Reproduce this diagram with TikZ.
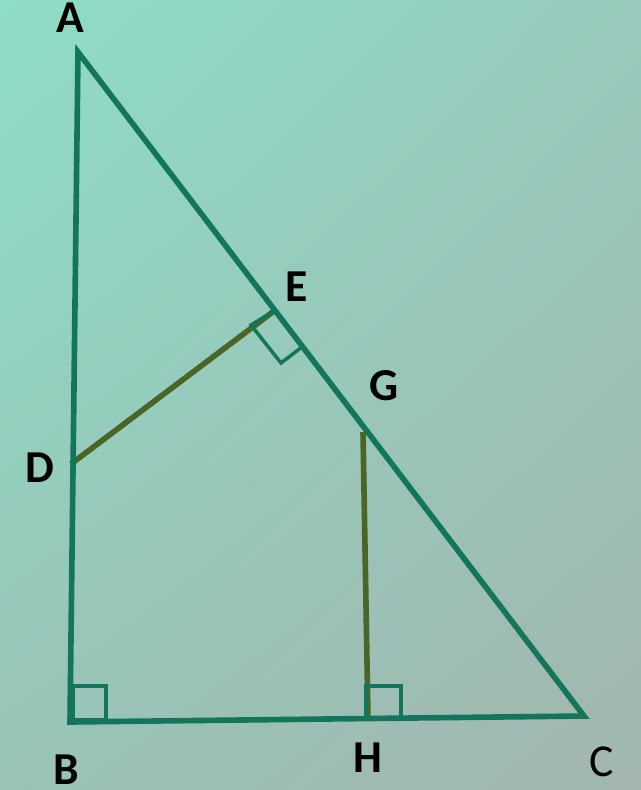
\documentclass[tikz,border=0pt]{standalone}
\usepackage{fontspec}
\setmainfont{Carlito}
\usepackage{xcolor}
\usetikzlibrary{shadings}
\definecolor{verde}{HTML}{13765A}
\definecolor{oliva}{HTML}{4A6626}
\definecolor{fondoA}{HTML}{8EDDC7}
\definecolor{fondoB}{HTML}{97CABC}
\definecolor{fondoC}{HTML}{99C3B7}
\definecolor{fondoD}{HTML}{A3B5AF}

\begin{document}
\begin{tikzpicture} %Triangulo ABC
  [
    x=0.02cm, y=-0.02cm,
    % Estilos para no repetir código
    etiqueta/.style={font=\fontsize{26}{30}\selectfont\bfseries, inner sep=0pt},
    lado/.style={verde, line width=3.2pt, line join=miter},
    segmento/.style={oliva, line width=3.2pt},
    recto/.style={verde, line width=2pt}
  ]
  \shade[upper left=fondoA, upper right=fondoB, lower left=fondoC, lower right=fondoD] (0,0) rectangle (641,790);
  \coordinate (A) at (78,52);
  \coordinate (B) at (70,722);
  \coordinate (C) at (584,716);
  \coordinate (D) at (71,464);
  \coordinate (E) at (274,311);
  \coordinate (G) at (363,432);
  \coordinate (H) at (368,720);
  \node[etiqueta] (a) at (70,18) {A};
  \node[etiqueta] (b) at (66,770) {B};
  \node[etiqueta, font=\fontsize{26}{30}\selectfont] (c) at (602,762) {C};
  \node[etiqueta] (d) at (40,468) {D};
  \node[etiqueta] (e) at (297,287) {E};
  \node[etiqueta] (g) at (384,386) {G};
  \node[etiqueta] (h) at (368,758) {H};
  \draw[segmento] (D) -- (E);
  \draw[segmento] (G) -- (H);
  \draw[recto] (73,686) rectangle (106,720);
  \draw[recto] (366,686) rectangle (401,719);
  \draw[recto] (E) -- (251,325) -- (281,363) -- (302,347);
  \draw[lado] (A) -- (B) -- (C) -- cycle;

\end{tikzpicture}
\end{document}
